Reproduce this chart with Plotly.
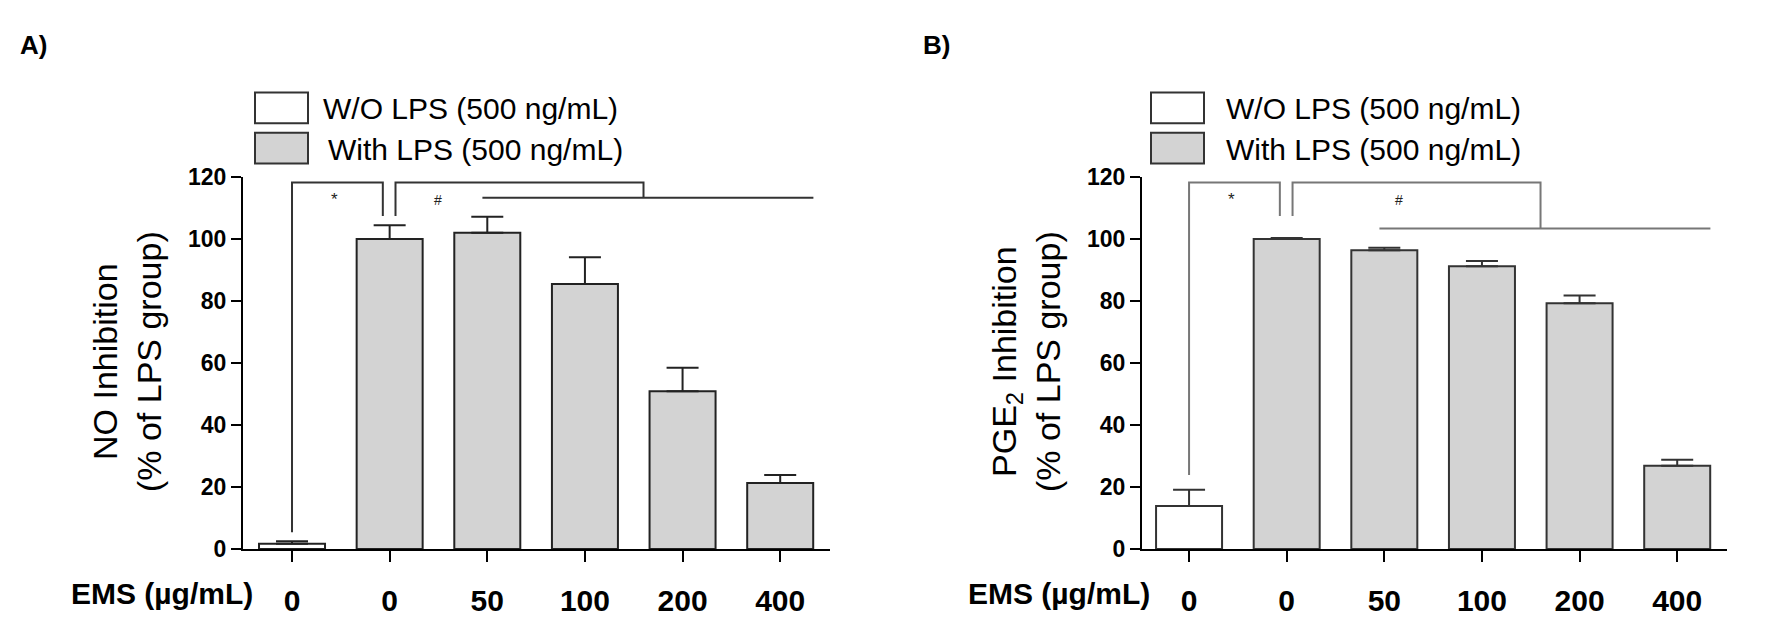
import plotly.graph_objects as go

# ---------------- data ----------------
tick_labels = ["0", "0", "50", "100", "200", "400"]
x_label = "EMS (µg/mL)"
series_names = ["W/O LPS (500 ng/mL)", "With LPS (500 ng/mL)"]

no_mean = [1.7, 100.0, 102.0, 85.5, 50.9, 21.3]
no_err = [0.8, 4.4, 5.2, 8.6, 7.6, 2.6]

pge_mean = [13.9, 100.0, 96.4, 91.2, 79.3, 26.9]
pge_err = [5.2, 0.3, 0.8, 1.7, 2.5, 1.9]

W, H = 1776, 634
FONT = "Liberation Sans, Arial, sans-serif"


def px(x):
    return x / W


def py(y):
    return 1 - y / H


fig = go.Figure()

panels = [
    dict(mean=no_mean, err=no_err, xa="x", ya="y", dom=(243, 830), rng=(-0.502, 5.51),
         line="#222222", brk="#333333", title="NO Inhibition<br>(% of LPS group)",
         label="A)", label_x=18, leg_box=255, leg_t1=321, leg_t2=326,
         star_leg_bottom=5.4, hash_line=113.3, hash_x=1.5),
    dict(mean=pge_mean, err=pge_err, xa="x2", ya="y2", dom=(1142, 1727), rng=(-0.482, 5.51),
         line="#333333", brk="#777777", title="PGE<sub>2</sub> Inhibition<br>(% of LPS group)",
         label="B)", label_x=921, leg_box=1151, leg_t1=1224, leg_t2=1224,
         star_leg_bottom=23.9, hash_line=103.4, hash_x=2.15),
]

xs = list(range(len(tick_labels)))
shapes = []
annotations = []

for i, p in enumerate(panels):
    # W/O LPS bar
    fig.add_trace(go.Bar(
        x=xs[:1], y=p["mean"][:1], xaxis=p["xa"], yaxis=p["ya"], width=0.676,
        marker=dict(color="white", line=dict(color=p["line"], width=2)),
        error_y=dict(type="data", array=p["err"][:1], arrayminus=[0], symmetric=False,
                     color=p["line"], thickness=2, width=16),
        name=series_names[0], showlegend=False))
    # With LPS bars
    fig.add_trace(go.Bar(
        x=xs[1:], y=p["mean"][1:], xaxis=p["xa"], yaxis=p["ya"], width=0.676,
        marker=dict(color="#d3d3d3", line=dict(color=p["line"], width=2)),
        error_y=dict(type="data", array=p["err"][1:], arrayminus=[0] * 5, symmetric=False,
                     color=p["line"], thickness=2, width=16),
        name=series_names[1], showlegend=False))

    xr, yr = p["xa"], p["ya"]
    lw = dict(color=p["brk"], width=2)
    # '*' bracket
    shapes.append(dict(type="path", xref=xr, yref=yr,
                       path=f"M 0,{p['star_leg_bottom']} L 0,118.2 L 0.93,118.2 L 0.93,107.4",
                       line=lw))
    # '#' bracket
    shapes.append(dict(type="path", xref=xr, yref=yr,
                       path=f"M 1.06,107.4 L 1.06,118.2 L 3.6,118.2 L 3.6,{p['hash_line']}",
                       line=lw))
    shapes.append(dict(type="line", xref=xr, yref=yr, x0=1.95, x1=5.34,
                       y0=p["hash_line"], y1=p["hash_line"], line=lw))
    annotations.append(dict(x=0.43, y=112.6, xref=xr, yref=yr, text="*", showarrow=False,
                            font=dict(family=FONT, size=17, color="#222")))
    annotations.append(dict(x=p["hash_x"], y=112.6, xref=xr, yref=yr, text="#",
                            showarrow=False, font=dict(family=FONT, size=14, color="#222")))

    # x-axis label (left of the category labels)
    annotations.append(dict(x=-0.38, y=py(605), xref=xr, yref="paper", text=x_label,
                            showarrow=False, xanchor="right", yanchor="middle",
                            font=dict(family=FONT, size=30, color="black", weight="bold")))
    # y-axis title
    annotations.append(dict(x=px(p["dom"][0] - 116), y=py(364), xref="paper", yref="paper",
                            text=p["title"], showarrow=False, textangle=-90,
                            xanchor="center", yanchor="middle",
                            font=dict(family=FONT, size=34, color="black")))
    # panel label
    annotations.append(dict(x=px(p["label_x"]), y=py(33), xref="paper", yref="paper",
                            text=p["label"], showarrow=False, xanchor="left", yanchor="middle",
                            font=dict(family=FONT, size=26, color="black", weight="bold")))
    # legend boxes
    shapes.append(dict(type="rect", xref="paper", yref="paper",
                       x0=px(p["leg_box"]), x1=px(p["leg_box"] + 53), y0=py(115), y1=py(83),
                       fillcolor="white", line=dict(color="#333", width=2)))
    shapes.append(dict(type="rect", xref="paper", yref="paper",
                       x0=px(p["leg_box"]), x1=px(p["leg_box"] + 53), y0=py(157), y1=py(125),
                       fillcolor="#d3d3d3", line=dict(color="#333", width=2)))
    annotations.append(dict(x=px(p["leg_t1"]), y=py(100), xref="paper", yref="paper",
                            text=series_names[0], showarrow=False, xanchor="left", yanchor="middle",
                            font=dict(family=FONT, size=30, color="black")))
    annotations.append(dict(x=px(p["leg_t2"]), y=py(142), xref="paper", yref="paper",
                            text=series_names[1], showarrow=False, xanchor="left", yanchor="middle",
                            font=dict(family=FONT, size=30, color="black")))

xaxis_common = dict(
    tickmode="array", tickvals=xs, ticktext=tick_labels,
    showline=True, linecolor="black", linewidth=2,
    ticks="outside", ticklen=11, tickwidth=2, tickcolor="black",
    ticklabelstandoff=13,
    tickfont=dict(family=FONT, size=30, color="black", weight="bold"),
    showgrid=False, zeroline=False, fixedrange=True,
)
yaxis_common = dict(
    range=[0, 120], tickvals=[0, 20, 40, 60, 80, 100, 120],
    showline=True, linecolor="black", linewidth=2,
    ticks="outside", ticklen=10, tickwidth=2, tickcolor="black",
    tickfont=dict(family=FONT, size=23, color="black", weight="bold"),
    showgrid=False, zeroline=False, fixedrange=True,
)

y_dom = [py(559), py(171)]
fig.update_layout(
    width=W, height=H,
    margin=dict(l=0, r=0, t=0, b=0),
    paper_bgcolor="white", plot_bgcolor="white",
    barmode="overlay",
    showlegend=False,
    xaxis=dict(domain=[px(243), px(830)], range=list(panels[0]["rng"]), anchor="y", **xaxis_common),
    yaxis=dict(domain=y_dom, anchor="x", **yaxis_common),
    xaxis2=dict(domain=[px(1142), px(1727)], range=list(panels[1]["rng"]), anchor="y2", **xaxis_common),
    yaxis2=dict(domain=y_dom, anchor="x2", **yaxis_common),
    shapes=shapes,
    annotations=annotations,
)

fig.write_html("out.html", config={"displayModeBar": False},
               post_script="document.body.style.margin='0';document.body.style.overflow='hidden';")
